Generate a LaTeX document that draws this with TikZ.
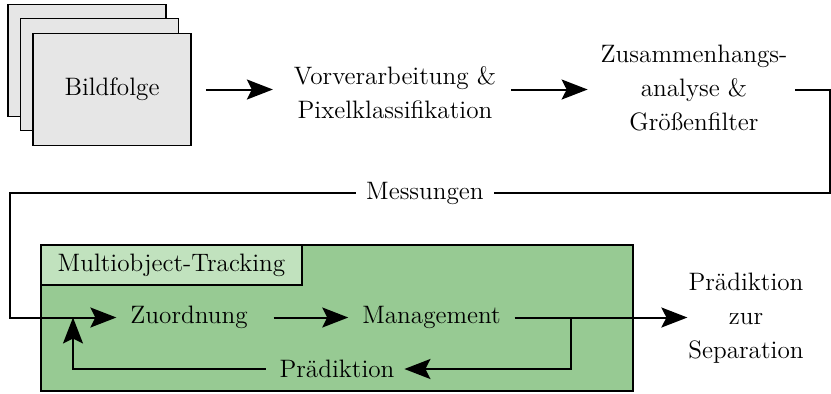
\documentclass[tikz,border=0pt]{standalone}
\usetikzlibrary{arrows.meta}
\definecolor{pagegray}{HTML}{E6E6E6}
\definecolor{trackgreen}{HTML}{97CA93}
\definecolor{labelgreen}{HTML}{C1E2BE}
\begin{document}
\begin{tikzpicture}[x=0.5pt, y=-0.5pt,
  font=\fontsize{12.6}{17}\selectfont,
  line width=1pt,
  >={Stealth[length=13pt,width=10pt,inset=2.5pt]},
  page/.style={draw, fill=pagegray, line width=0.9pt,
    minimum width=79pt, minimum height=56pt, inner sep=0pt},
  lbl/.style={inner sep=0pt, align=center},
  msg/.style={fill=white, inner xsep=5pt, inner ysep=2pt}]
\useasboundingbox (0,0) rectangle (831,393);

% stack of image frames
\node[page] (pg3) at (87,60.5) {};
\node[page] (pg2) at (99.5,74.5) {};
\node[page] (bild) at (112,89.5) {Bildfolge};

% processing steps
\node[lbl] (vor) at (395,92.5) {Vorverarbeitung \&\\Pixelklassifikation};
\node[lbl] (zus) at (694,88) {Zusammenhangs-\\analyse \&\\Größenfilter};

% tracking block
\node[draw, fill=trackgreen, line width=0.9pt, inner sep=0pt,
  minimum width=296pt, minimum height=73pt] (mot) at (337,318) {};
\node[draw, fill=labelgreen, line width=0.9pt, anchor=north west,
  minimum height=20pt, inner xsep=0pt, inner ysep=0pt, minimum width=130.5pt] (motlab)
  at (mot.north west) {Multiobject-Tracking};

\node[lbl] (zuo) at (189,317.5) {Zuordnung};
\node[lbl] (man) at (431.5,317.5) {Management};
\node[lbl] (pra) at (337,369) {Prädiktion};
\node[lbl] (sep) at (746,318) {Prädiktion\\zur\\Separation};

\coordinate (rc) at (830,193);
\coordinate (lc) at (10,193);
\coordinate (br) at (571,317.5);
\coordinate (jn) at (73,317.5);

% connectors
\draw[->, shorten <=7pt, shorten >=10pt] (bild.east) -- (bild.east -| vor.west);
\draw[->, shorten <=7pt, shorten >=6pt] (vor.east |- bild.east) -- (zus.west |- bild.east);
\draw[->, shorten <=3.5pt, shorten >=6.5pt] (zus.east |- bild.east) -| (rc)
  -- node[msg, pos=0.494] (mes) {Messungen} (lc) |- (zuo.west);
\draw[->, shorten <=12.5pt, shorten >=6.5pt] (zuo.east) -- (man.west);
\draw[->, shorten <=6.5pt] (man.east) -- (sep.west |- man.east);
\draw[->, shorten >=4.5pt] (br) |- (pra.east);
\draw[->, shorten <=6.5pt] (pra.west) -| (jn);
\end{tikzpicture}
\end{document}
